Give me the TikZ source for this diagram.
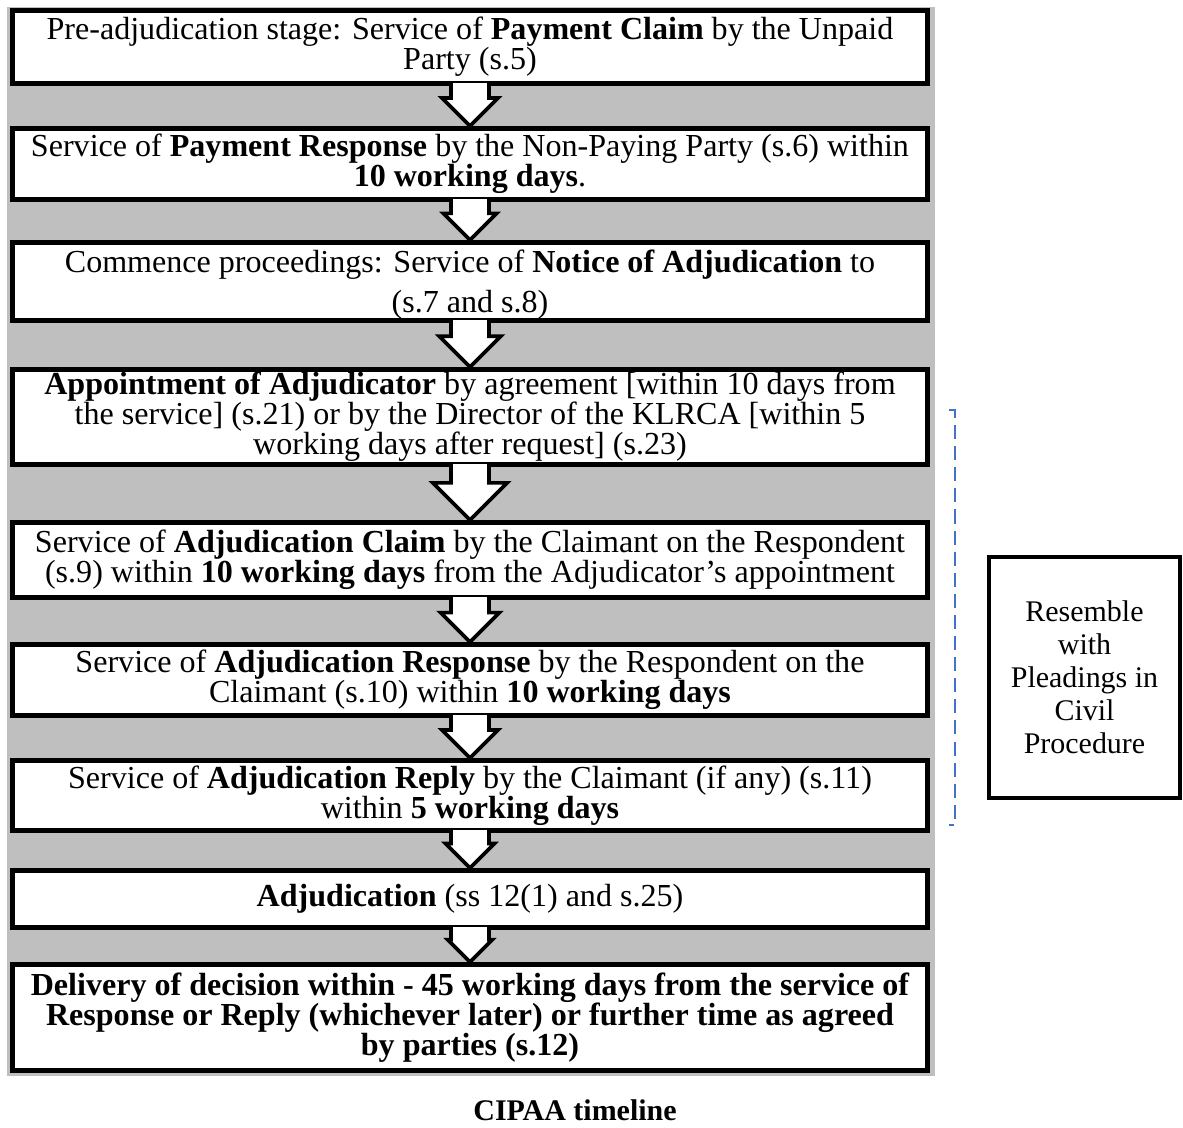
\documentclass[tikz,border=0pt]{standalone}
\usepackage{fontspec}
\setmainfont{Liberation Serif}
\usetikzlibrary{calc}

\definecolor{bggray}{HTML}{BFBFBF}
\definecolor{bracketblue}{HTML}{4472C4}

\tikzset{
  stagebox/.style={draw, line width=3.5pt, fill=white, minimum width=22.875cm, inner sep=0pt, align=center, font=\fontsize{22.8}{21.4}\selectfont},
  sidebox/.style={draw, line width=3pt, fill=white, minimum width=4.775cm, minimum height=6.025cm, inner sep=0pt, align=center, font=\fontsize{21.3}{23.5}\selectfont},
  arrowline/.style={line width=2.6pt, line join=miter},
}

% block arrow from the bottom of one stage to the top of the next
\newcommand{\stagearrow}[2]{%
  \fill[white] let \p1=(#1.south), \p2=(#2.north), \n1={\y1-\y2} in
    (\x1-13.5pt,\y1+2pt) -- (\x1-13.5pt,\y1-0.3*\n1) -- (\x1-0.7*\n1,\y1-0.3*\n1) -- (\x2,\y2)
    -- (\x1+0.7*\n1,\y1-0.3*\n1) -- (\x1+13.5pt,\y1-0.3*\n1) -- (\x1+13.5pt,\y1+2pt) -- cycle;
  \draw[arrowline] let \p1=(#1.south), \p2=(#2.north), \n1={\y1-\y2} in
    (\x1-13.5pt,\y1+2pt) -- (\x1-13.5pt,\y1-0.3*\n1) -- (\x1-0.7*\n1,\y1-0.3*\n1) -- (\x2,\y2)
    -- (\x1+0.7*\n1,\y1-0.3*\n1) -- (\x1+13.5pt,\y1-0.3*\n1) -- (\x1+13.5pt,\y1+2pt);
}

\begin{document}
\begin{tikzpicture}[x=0.025cm, y=-0.025cm]
  \useasboundingbox (0,0) rectangle (1183,1127);
  \fill[bggray] (7,7) rectangle (935,1076);

  \node[stagebox, minimum height=1.825cm] (claim) at (470,47) {Pre-adjudication stage: Service of \textbf{Payment Claim} by the Unpaid\\Party (s.5)};
  \node[stagebox, minimum height=1.775cm] (response) at (470,164) {Service of \textbf{Payment Response} by the Non-Paying Party (s.6) within\\\textbf{10 working days}.};
  \node[stagebox, minimum height=1.95cm] (notice) at (470,281.5) {\rule{0pt}{21pt}Commence proceedings: Service of \textbf{Notice of Adjudication} to\\[7pt](s.7 and s.8)};
  \node[stagebox, minimum height=2.375cm] (appoint) at (470,417) {\textbf{Appointment of Adjudicator} by agreement [within 10 days from\\the service] (s.21) or by the Director of the KLRCA [within 5\\working days after request] (s.23)};
  \node[stagebox, minimum height=1.875cm] (adjclaim) at (470,560) {Service of \textbf{Adjudication Claim} by the Claimant on the Respondent\\(s.9) within \textbf{10 working days} from the Adjudicator's appointment};
  \node[stagebox, minimum height=1.775cm] (adjresp) at (470,680) {Service of \textbf{Adjudication Response} by the Respondent on the\\Claimant (s.10) within \textbf{10 working days}};
  \node[stagebox, minimum height=1.75cm] (adjreply) at (470,795.5) {Service of \textbf{Adjudication Reply} by the Claimant (if any) (s.11)\\within \textbf{5 working days}};
  \node[stagebox, minimum height=1.425cm] (adjud) at (470,899) {\textbf{Adjudication} (ss 12(1) and s.25)};
  \node[stagebox, minimum height=2.65cm, font=\fontsize{22.8}{21.4}\selectfont\bfseries] (decision) at (470,1017.5) {Delivery of decision within - 45 working days from the service of\\Response or Reply (whichever later) or further time as agreed\\by parties (s.12)};

  \stagearrow{claim}{response}
  \stagearrow{response}{notice}
  \stagearrow{notice}{appoint}
  \stagearrow{appoint}{adjclaim}
  \stagearrow{adjclaim}{adjresp}
  \stagearrow{adjresp}{adjreply}
  \stagearrow{adjreply}{adjud}
  \stagearrow{adjud}{decision}

  % pleadings bracket
  \draw[bracketblue, line width=1.1pt, dash pattern=on 10pt off 5pt] (949,410) -- (955,410) -- (955,825) -- (949,825);
  \node[sidebox] (pleadings) at (1084.5,677.5) {Resemble\\with\\Pleadings in\\Civil\\Procedure};

  \node[font=\fontsize{21.3}{21.3}\selectfont\bfseries] (caption) at (575,1110) {CIPAA timeline};
\end{tikzpicture}
\end{document}
